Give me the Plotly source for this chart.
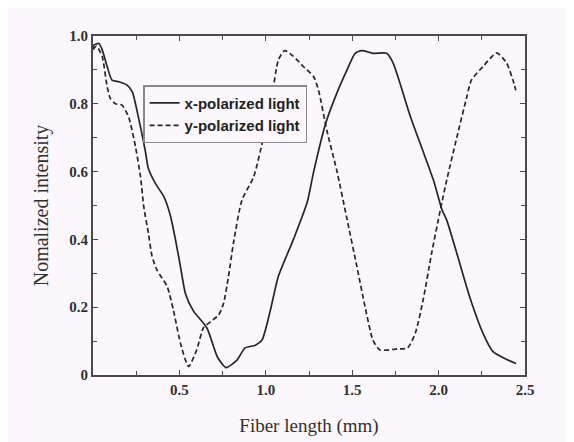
import plotly.graph_objects as go

# x-polarized light (solid)
x_pol_len = [0.0, 0.005, 0.034, 0.053, 0.082, 0.11, 0.15, 0.197, 0.227, 0.263, 0.303, 0.32, 0.36, 0.41,
             0.448, 0.477, 0.506, 0.535, 0.58, 0.66, 0.72, 0.77, 0.833, 0.88, 0.94, 0.978, 1.026, 1.072,
             1.16, 1.24, 1.277, 1.345, 1.41, 1.47, 1.517, 1.556, 1.62, 1.70, 1.737, 1.777, 1.835, 1.91,
             1.97, 2.02, 2.047, 2.105, 2.18, 2.257, 2.315, 2.394, 2.448]
x_pol_int = [0.96, 0.973, 0.978, 0.96, 0.91, 0.87, 0.865, 0.855, 0.836, 0.76, 0.66, 0.61, 0.566, 0.526,
             0.47, 0.40, 0.32, 0.24, 0.19, 0.138, 0.053, 0.022, 0.044, 0.08, 0.088, 0.103, 0.19, 0.29,
             0.40, 0.51, 0.60, 0.74, 0.83, 0.90, 0.949, 0.957, 0.949, 0.949, 0.92, 0.86, 0.765, 0.66,
             0.575, 0.487, 0.457, 0.36, 0.23, 0.123, 0.069, 0.046, 0.034]

# y-polarized light (dashed)
y_pol_len = [0.0, 0.02, 0.053, 0.082, 0.10, 0.13, 0.168, 0.207, 0.246, 0.275, 0.294, 0.32, 0.342, 0.37,
             0.43, 0.466, 0.506, 0.553, 0.60, 0.64, 0.68, 0.727, 0.755, 0.784, 0.813, 0.862, 0.93, 0.986,
             1.035, 1.073, 1.11, 1.16, 1.217, 1.277, 1.305, 1.354, 1.41, 1.47, 1.527, 1.575, 1.62, 1.66,
             1.76, 1.82, 1.865, 1.91, 1.96, 2.01, 2.047, 2.105, 2.163, 2.19, 2.257, 2.336, 2.394, 2.43,
             2.447]
y_pol_int = [0.96, 0.97, 0.94, 0.85, 0.816, 0.80, 0.796, 0.76, 0.673, 0.585, 0.496, 0.42, 0.35, 0.31,
             0.26, 0.19, 0.094, 0.025, 0.074, 0.14, 0.157, 0.177, 0.21, 0.29, 0.39, 0.516, 0.585, 0.70,
             0.82, 0.93, 0.957, 0.94, 0.91, 0.88, 0.84, 0.72, 0.605, 0.46, 0.32, 0.20, 0.103, 0.074,
             0.077, 0.08, 0.123, 0.22, 0.36, 0.487, 0.575, 0.70, 0.82, 0.87, 0.91, 0.95, 0.92, 0.87,
             0.84]

x_tick_vals = [0.5, 1.0, 1.5, 2.0, 2.5]
x_tick_text = ["0.5", "1.0", "1.5", "2.0", "2.5"]
y_tick_vals = [0, 0.2, 0.4, 0.6, 0.8, 1.0]
y_tick_text = ["0", "0.2", "0.4", "0.6", "0.8", "1.0"]

line_col = "#262626"
bg = "#fcf7fc"
axcol = "#4a4a4a"

fig = go.Figure()
fig.add_trace(go.Scatter(x=x_pol_len, y=x_pol_int, mode="lines", name="x-polarized light",
                         line=dict(color=line_col, width=1.7, shape="spline", smoothing=0.6)))
fig.add_trace(go.Scatter(x=y_pol_len, y=y_pol_int, mode="lines", name="y-polarized light",
                         line=dict(color=line_col, width=1.7, dash="5px,3px", shape="spline", smoothing=0.6)))

tickfont = dict(family="Liberation Serif", size=15, color="#303030", weight="bold")
axis_common = dict(showline=True, linecolor=axcol, linewidth=2, mirror="ticks",
                   ticks="inside", ticklen=5, tickwidth=1.3, tickcolor=axcol,
                   showgrid=False, zeroline=False, tickfont=tickfont)

fig.update_xaxes(range=[0, 2.5], tickvals=x_tick_vals, ticktext=x_tick_text,
                 minor=dict(dtick=0.25, tick0=0, ticks="inside", ticklen=4, tickcolor=axcol),
                 title=dict(text="Fiber length (mm)",
                            font=dict(family="Liberation Serif", size=19, color="#303030"), standoff=22),
                 **axis_common)
fig.update_yaxes(range=[0, 1.0], tickvals=y_tick_vals, ticktext=y_tick_text,
                 minor=dict(dtick=0.1, tick0=0, ticks="inside", ticklen=4, tickcolor=axcol),
                 title=dict(text="Nomalized intensity",
                            font=dict(family="Liberation Serif", size=20, color="#303030"), standoff=15),
                 **axis_common)

fig.update_layout(
    width=574, height=442,
    margin=dict(l=85, r=57, t=28, b=75, autoexpand=False),
    paper_bgcolor=bg, plot_bgcolor=bg,
    showlegend=True,
    legend=dict(x=0.116, y=0.855, xanchor="left", yanchor="top",
                bgcolor=bg, bordercolor="#8a8a8a", borderwidth=1.5,
                font=dict(family="Liberation Sans", size=15, color="#222222", weight="bold"),
                tracegroupgap=0, itemwidth=30),
)

fig.write_html("out.html")
